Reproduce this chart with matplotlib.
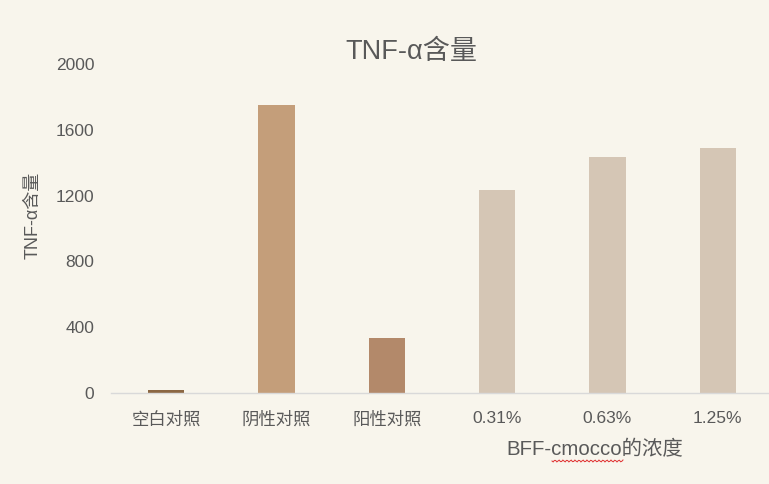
import matplotlib
matplotlib.use("Agg")
import matplotlib.pyplot as plt
import numpy as np

plt.rcParams['font.family'] = ['Liberation Sans', 'Noto Sans CJK SC', 'DejaVu Sans']

categories = ["空白对照", "阴性对照", "阳性对照", "0.31%", "0.63%", "1.25%"]
values = [20, 1751, 334, 1234, 1435, 1489]
colors = ["#8B6743", "#C49E7A", "#B3896A", "#D5C6B5", "#D5C6B5", "#D5C6B5"]
yticks = [0, 400, 800, 1200, 1600, 2000]

bg = "#F8F5EC"
W, H = 769, 484
fig = plt.figure(figsize=(W/100, H/100), dpi=100, facecolor=bg)
ax = fig.add_axes([111/W, 1-393/H, (773-111)/W, (393-64)/H], facecolor=bg)

x = np.arange(len(categories))
ax.bar(x, values, width=0.33, color=colors, zorder=2)
ax.set_xlim(-0.5, len(categories)-0.5)
ax.set_ylim(0, 2000)
ax.set_yticks(yticks)
ax.set_yticklabels([str(v) for v in yticks])
ax.set_xticks(x)
ax.set_xticklabels(categories)
for s in ["top", "right", "left"]:
    ax.spines[s].set_visible(False)
ax.spines["bottom"].set_color("#D9D9D9")
ax.spines["bottom"].set_linewidth(1.0)
ax.tick_params(axis="both", length=0, colors="#595959", labelsize=12.5)
ax.tick_params(axis="x", pad=13)
ax.tick_params(axis="y", pad=12)

fig.text(411/W, 1-52/H, "TNF-α含量", ha="center", va="center", fontsize=19.5, color="#595959")
fig.text(33/W, 1-215/H, "TNF-α含量", ha="center", va="center", rotation=90, fontsize=13, color="#595959")
fig.text(595/W, 1-450/H, "BFF-cmocco的浓度", ha="center", va="center", fontsize=14.7, color="#595959")

# spell-check squiggle
sx = np.linspace(552, 623, 60)
sy = 461 + 1.0*np.sin((sx-552)*np.pi/2)
fig.add_artist(plt.Line2D(sx/W, 1-sy/H, color="#E03030", lw=0.7, transform=fig.transFigure))

fig.savefig("out.png", dpi=100, facecolor=bg)
